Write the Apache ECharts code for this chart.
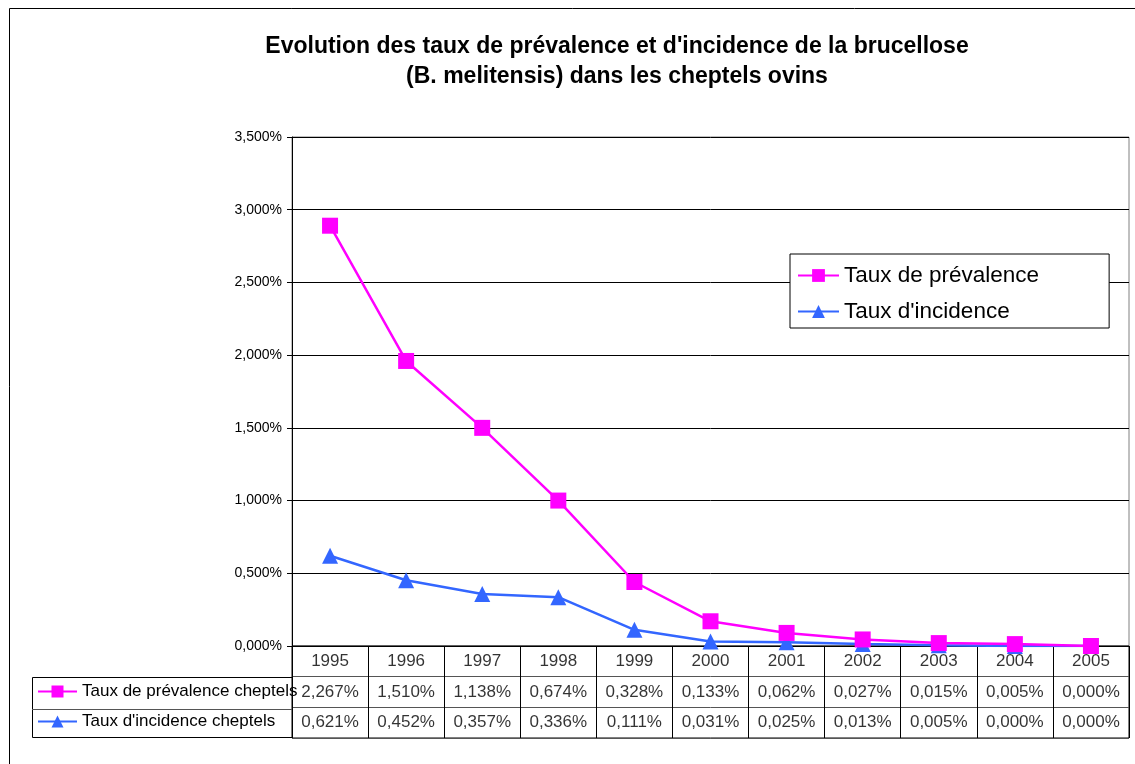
<!DOCTYPE html>
<html>
<head>
<meta charset="utf-8">
<script src="https://cdn.jsdelivr.net/npm/echarts@6/dist/echarts.min.js"></script>
<style>
  html, body { margin: 0; padding: 0; background: #fff; }
  #chart { width: 1135px; height: 764px; }
</style>
</head>
<body>
<div id="chart"></div>
<script>
// categories
const years = ["1995", "1996", "1997", "1998", "1999", "2000", "2001", "2002", "2003", "2004", "2005"];

// plotted points (in %)
const prevalence = [2.89, 1.96, 1.50, 1.00, 0.44, 0.17, 0.09, 0.045, 0.02, 0.013, 0.0];
const incidence = [0.621, 0.452, 0.357, 0.336, 0.111, 0.031, 0.025, 0.013, 0.005, 0.0, 0.0];

// values printed in the data table (in %)
const prevalenceTable = [2.267, 1.510, 1.138, 0.674, 0.328, 0.133, 0.062, 0.027, 0.015, 0.005, 0.0];
const incidenceTable = [0.621, 0.452, 0.357, 0.336, 0.111, 0.031, 0.025, 0.013, 0.005, 0.0, 0.0];

const seriesNames = ["Taux de prévalence", "Taux d'incidence"];
const tableRows = ["years", "prev", "inc"];
const yTicks = { min: 0, max: 3.5, interval: 0.5 };

const fmtPct = (v) => v.toFixed(3).replace(".", ",") + "%";
const FONT = "Liberation Sans, Arial, sans-serif";

const chart = echarts.init(document.getElementById("chart"), null, { renderer: "canvas" });

// table cells: [column, row, text]
const cells = [];
years.forEach((y, i) => {
  cells.push([i, 0, y]);
  cells.push([i, 1, fmtPct(prevalenceTable[i])]);
  cells.push([i, 2, fmtPct(incidenceTable[i])]);
});

const option = {
  backgroundColor: "#fff",
  animation: false,
  title: {
    text: "Evolution des taux de prévalence et d'incidence de la brucellose\n(B. melitensis) dans les cheptels ovins",
    left: 612,
    top: 27,
    textAlign: "center",
    textStyle: { fontFamily: FONT, fontSize: 23, fontWeight: "bold", color: "#000", lineHeight: 30 },
  },
  legend: [
    {
      data: seriesNames,
      orient: "vertical",
      left: 790,
      top: 254,
      padding: [10, 70, 5, 7],
      itemWidth: 41,
      itemHeight: 16,
      itemGap: 13,
      backgroundColor: "#fff",
      borderColor: "#000",
      borderWidth: 1,
      selectedMode: false,
      textStyle: { fontFamily: FONT, fontSize: 22.5, color: "#000" },
    },
    {
      data: seriesNames,
      orient: "vertical",
      left: 37,
      top: 683,
      padding: 0,
      itemWidth: 39,
      itemHeight: 15,
      itemGap: 13,
      selectedMode: false,
      formatter: (name) => name + " cheptels",
      textStyle: { fontFamily: FONT, fontSize: 17, color: "#000" },
    },
  ],
  grid: [
    { left: 292, right: 6, top: 137, bottom: 118, show: true, borderColor: "#808080", borderWidth: 1 },
    { left: 292, right: 6, top: 646, height: 92, show: true, borderColor: "#000", borderWidth: 1 },
  ],
  xAxis: [
    {
      type: "category",
      gridIndex: 0,
      data: years,
      boundaryGap: true,
      axisLine: { lineStyle: { color: "#000", width: 1 } },
      axisTick: { show: false },
      axisLabel: { show: false },
    },
    {
      type: "category",
      gridIndex: 1,
      data: years,
      boundaryGap: true,
      position: "top",
      axisLine: { show: false },
      axisTick: { show: false },
      axisLabel: { show: false },
      splitLine: { show: true, lineStyle: { color: "#000", width: 1 } },
    },
  ],
  yAxis: [
    {
      type: "value",
      gridIndex: 0,
      min: yTicks.min,
      max: yTicks.max,
      interval: yTicks.interval,
      axisLine: { show: true, lineStyle: { color: "#000" } },
      axisTick: { show: true, length: 5, lineStyle: { color: "#000" } },
      axisLabel: { fontFamily: FONT, fontSize: 14, color: "#000", margin: 10, formatter: fmtPct },
      splitLine: { lineStyle: { color: "#000", width: 1 } },
    },
    {
      type: "category",
      gridIndex: 1,
      data: tableRows,
      inverse: true,
      boundaryGap: true,
      axisLine: { show: false },
      axisTick: { show: false },
      axisLabel: { show: false },
      splitLine: { show: true, lineStyle: { color: "#555", width: 1 } },
    },
  ],
  graphic: [
    // outer chart border
    { type: "rect", shape: { x: 9.5, y: 8.5, width: 1200, height: 800 }, style: { fill: "none", stroke: "#000", lineWidth: 1 }, silent: true },
    // row-label cells of the data table
    { type: "rect", shape: { x: 32.5, y: 677.5, width: 260, height: 60 }, style: { fill: "none", stroke: "#000", lineWidth: 1 }, silent: true },
    { type: "line", shape: { x1: 32, y1: 709.5, x2: 292, y2: 709.5 }, style: { stroke: "#555", lineWidth: 1 }, silent: true },
  ],
  series: [
    {
      name: seriesNames[0],
      type: "line",
      xAxisIndex: 0,
      yAxisIndex: 0,
      data: prevalence,
      symbol: "rect",
      symbolSize: 16,
      showAllSymbol: true,
      lineStyle: { color: "#ff00ff", width: 2.5 },
      itemStyle: { color: "#ff00ff" },
      z: 3,
    },
    {
      name: seriesNames[1],
      type: "line",
      xAxisIndex: 0,
      yAxisIndex: 0,
      data: incidence,
      symbol: "triangle",
      symbolSize: 16,
      showAllSymbol: true,
      lineStyle: { color: "#3366ff", width: 2.5 },
      itemStyle: { color: "#3366ff" },
      z: 2,
    },
    {
      name: "table",
      type: "scatter",
      xAxisIndex: 1,
      yAxisIndex: 1,
      data: cells,
      symbolSize: 1,
      silent: true,
      itemStyle: { color: "rgba(0,0,0,0)" },
      label: {
        show: true,
        position: "inside",
        formatter: (p) => p.value[2],
        fontFamily: FONT,
        fontSize: 17,
        color: "#000",
      },
    },
  ],
};

chart.setOption(option);
</script>
</body>
</html>
